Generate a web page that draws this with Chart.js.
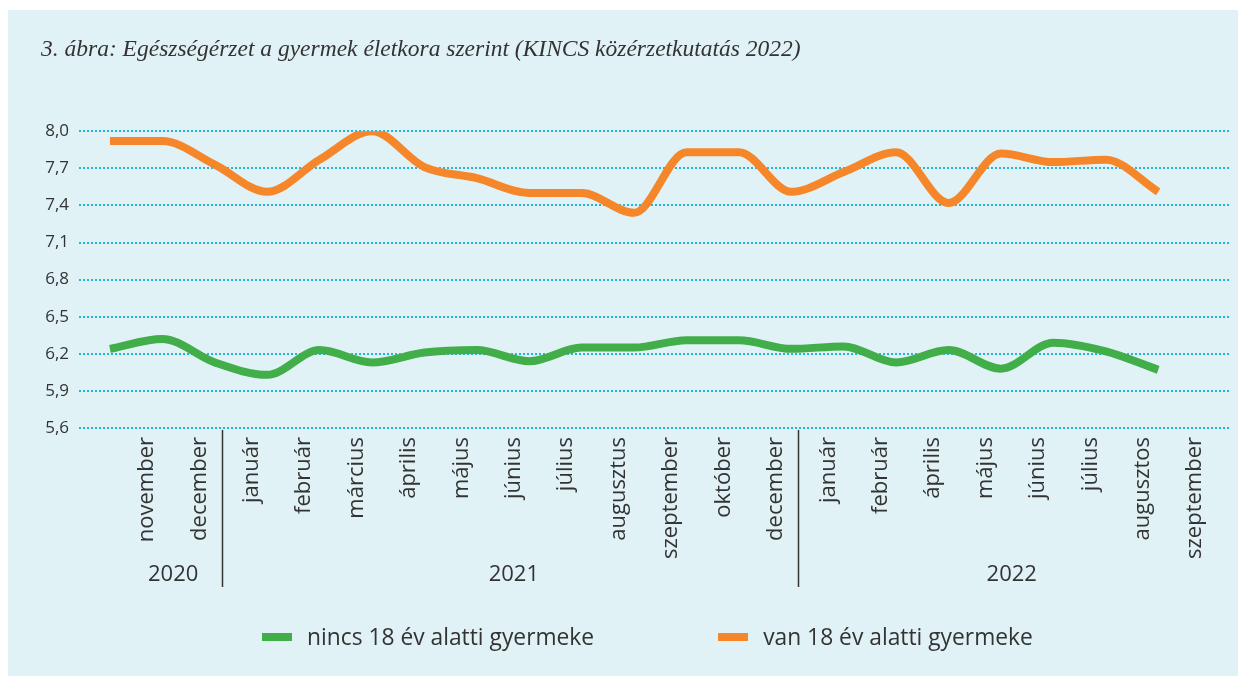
<!DOCTYPE html>
<html lang="hu">
<head>
<meta charset="utf-8">
<title>Egészségérzet a gyermek életkora szerint</title>
<script src="https://cdn.jsdelivr.net/npm/chart.js@4.4.1/dist/chart.umd.min.js"></script>
<style>
  html, body { margin: 0; padding: 0; background: #fff; }
  #panel { position: absolute; left: 8px; top: 10px; width: 1230px; height: 666px; background: #e1f2f6; }
  #chart { position: absolute; left: 0; top: 0; }
  #legend { position: absolute; left: 254px; top: 612px; display: flex; font: 22.8px "Open Sans", sans-serif; color: #333; line-height: 30px; }
  #legend .item { display: flex; align-items: center; margin-right: 124px; }
  #legend .item i { display: inline-block; width: 30px; height: 8px; margin-right: 15px; }
</style>
</head>
<body>
<div id="panel">
  <canvas id="chart" width="1230" height="666"></canvas>
  <div id="legend"></div>
</div>
<script>
// survey months (Nov 2020 – Sep 2022, some months missing)
const months = [
  "november", "december",
  "január", "február", "március", "április", "május", "június", "július",
  "augusztus", "szeptember", "október", "december",
  "január", "február", "április", "május", "június", "július", "augusztos", "szeptember"
];

// year groups under the month labels (indexes into months)
const years = [
  { label: "2020", first: 0, last: 1 },
  { label: "2021", first: 2, last: 12 },
  { label: "2022", first: 13, last: 20 }
];

const noChildLabel = "nincs 18 év alatti gyermeke";
const noChild = [6.24, 6.32, 6.13, 6.03, 6.23, 6.13, 6.21, 6.23, 6.14, 6.25, 6.25,
                 6.31, 6.31, 6.24, 6.26, 6.13, 6.23, 6.08, 6.29, 6.22, 6.07];

const hasChildLabel = "van 18 év alatti gyermeke";
const hasChild = [7.92, 7.92, 7.73, 7.51, 7.77, 8.0, 7.71, 7.62, 7.5, 7.5, 7.34,
                  7.83, 7.83, 7.51, 7.67, 7.83, 7.42, 7.82, 7.75, 7.77, 7.51];

const yMin = 5.6, yMax = 8.0, yStep = 0.3;

const textColor = "#333";
const LABEL_SHIFT = 37;

const asPoints = arr => arr.map((v, i) => ({ x: i, y: v }));

// year captions and separators below the month labels
const yearRow = {
  id: "yearRow",
  afterDraw(chart) {
    const { ctx, chartArea } = chart;
    const x = chart.scales.x;
    ctx.save();
    ctx.strokeStyle = textColor;
    ctx.lineWidth = 1.5;
    years.slice(1).forEach(g => {
      const px = Math.round(x.getPixelForValue(g.first - 0.5) + LABEL_SHIFT - 4) + 0.5;
      ctx.beginPath();
      ctx.moveTo(px, chartArea.bottom + 2);
      ctx.lineTo(px, chartArea.bottom + 159);
      ctx.stroke();
    });
    ctx.fillStyle = textColor;
    ctx.font = '22px "Open Sans"';
    ctx.textAlign = "center";
    ctx.textBaseline = "middle";
    years.forEach(g => {
      const px = x.getPixelForValue((g.first + g.last) / 2) + LABEL_SHIFT;
      ctx.fillText(g.label, px, chartArea.bottom + 147);
    });
    ctx.restore();
  }
};

const lineStyle = {
  borderWidth: 8,
  cubicInterpolationMode: "monotone",
  pointRadius: 0,
  borderCapStyle: "butt"
};

const chart = new Chart(document.getElementById("chart"), {
  type: "line",
  data: {
    datasets: [
      { label: noChildLabel, data: asPoints(noChild), borderColor: "#41ae4a", backgroundColor: "#41ae4a", ...lineStyle },
      { label: hasChildLabel, data: asPoints(hasChild), borderColor: "#f5862a", backgroundColor: "#f5862a", ...lineStyle }
    ]
  },
  options: {
    responsive: false,
    animation: false,
    events: [],
    layout: { padding: { left: 33, right: 8, top: 0, bottom: 0 } },
    plugins: {
      legend: { display: false },
      tooltip: { enabled: false },
      title: {
        display: true,
        text: "3. ábra: Egészségérzet a gyermek életkora szerint (KINCS közérzetkutatás 2022)",
        align: "start",
        color: textColor,
        font: { family: "Liberation Serif", style: "italic", size: 23.5, weight: "normal" },
        padding: { top: 26, bottom: 67 }
      }
    },
    scales: {
      x: {
        type: "linear",
        min: -0.59,
        max: 21.37,
        afterBuildTicks: s => { s.ticks = months.map((_, i) => ({ value: i })); },
        afterFit: s => { s.height = 248; },
        grid: { display: false, drawTicks: false },
        border: { display: false },
        ticks: {
          autoSkip: false,
          maxRotation: 90,
          minRotation: 90,
          labelOffset: LABEL_SHIFT,
          padding: 9,
          color: textColor,
          font: { family: "Open Sans", size: 22 },
          callback: v => months[v]
        }
      },
      y: {
        min: yMin,
        max: yMax,
        afterFit: s => { s.width = 38; },
        grid: { color: "#22b4d4", lineWidth: 2, drawTicks: false },
        border: { display: false, dash: [2, 2] },
        ticks: {
          stepSize: yStep,
          padding: 10,
          color: textColor,
          font: { family: "Open Sans", size: 17 },
          callback: v => v.toFixed(1).replace(".", ",")
        }
      }
    }
  },
  plugins: [yearRow]
});

// legend built from the datasets
const legendBox = document.getElementById("legend");
chart.data.datasets.forEach(ds => {
  const item = document.createElement("span");
  item.className = "item";
  const swatch = document.createElement("i");
  swatch.style.background = ds.borderColor;
  item.append(swatch, document.createTextNode(ds.label));
  legendBox.append(item);
});
</script>
</body>
</html>
